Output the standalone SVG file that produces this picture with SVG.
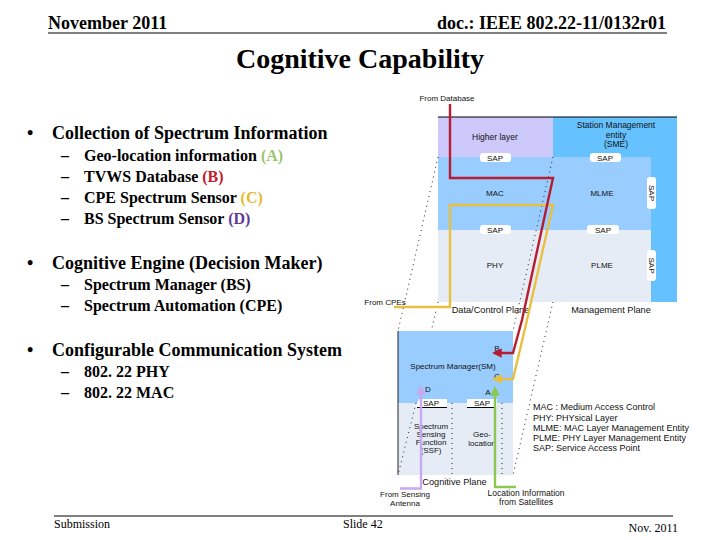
<svg xmlns="http://www.w3.org/2000/svg" width="720" height="540" viewBox="0 0 720 540">
<defs>
<marker id="ar" viewBox="0 0 10 10" refX="8" refY="5" markerWidth="4" markerHeight="4" orient="auto-start-reverse"><path d="M0 0L10 5L0 10Z" fill="context-stroke"/></marker>
</defs>
<style>
.s{font-family:"Liberation Serif",serif;fill:#000}
.h{font-size:18px;font-weight:bold}
.l1{font-size:18px;font-weight:bold}
.l2{font-size:16px;font-weight:bold}
.f{font-size:12px}
.d{font-family:"Liberation Sans",sans-serif;font-size:8px;fill:#111}
.b{font-size:9.200px}
.k{font-size:8.500px}
.m{text-anchor:middle}
.sap{fill:#fff}
.dot{fill:none;stroke:#222;stroke-width:1;stroke-dasharray:1 4}
.w{fill:none;stroke-width:2.4;stroke-linejoin:miter}
</style>
<rect width="720" height="540" fill="#fff"/>
<g id="header">
<text class="s h" x="48" y="28.500">November 2011</text>
<text class="s h" x="666" y="28.500" text-anchor="end">doc.: IEEE 802.22-11/0132r01</text>
<path d="M48 33H667" stroke="#000" stroke-width="1"/>
<text class="s m" x="360" y="68" style="font-size:28px;font-weight:bold">Cognitive Capability</text>
</g>
<g id="bullets">
<text class="s l1" x="27" y="138.500">•</text>
<text class="s l1" x="52" y="138.500">Collection of Spectrum Information</text>
<text class="s l2" x="61" y="161">–</text>
<text class="s l2" x="84" y="161">Geo-location information <tspan fill="#9bc46e">(A)</tspan></text>
<text class="s l2" x="61" y="182">–</text>
<text class="s l2" x="84" y="182">TVWS Database <tspan fill="#c0202a">(B)</tspan></text>
<text class="s l2" x="61" y="203">–</text>
<text class="s l2" x="84" y="203">CPE Spectrum Sensor <tspan fill="#e8b830">(C)</tspan></text>
<text class="s l2" x="61" y="224">–</text>
<text class="s l2" x="84" y="224">BS Spectrum Sensor <tspan fill="#5f3b96">(D)</tspan></text>
<text class="s l1" x="27" y="268.500">•</text>
<text class="s l1" x="52" y="268.500">Cognitive Engine (Decision Maker)</text>
<text class="s l2" x="61" y="290">–</text>
<text class="s l2" x="84" y="290">Spectrum Manager (BS)</text>
<text class="s l2" x="61" y="311">–</text>
<text class="s l2" x="84" y="311">Spectrum Automation (CPE)</text>
<text class="s l1" x="27" y="355.500">•</text>
<text class="s l1" x="52" y="355.500">Configurable Communication System</text>
<text class="s l2" x="61" y="376.500">–</text>
<text class="s l2" x="84" y="376.500">802. 22 PHY</text>
<text class="s l2" x="61" y="397.500">–</text>
<text class="s l2" x="84" y="397.500">802. 22 MAC</text>
</g>
<g id="stack">
<rect x="438" y="117" width="115" height="40" fill="#ccc8fa"/>
<path d="M553 117H677V302H651V157H553Z" fill="#66c2ff"/>
<rect x="438" y="157" width="213" height="73" fill="#99ccff"/>
<rect x="438" y="230" width="213" height="72" fill="#e6ecf6"/>
<path d="M438 117H677" stroke="#000" stroke-width="1"/>
<rect class="sap" x="480" y="153" width="31" height="9" rx="3"/>
<rect class="sap" x="590" y="153" width="31" height="9" rx="3"/>
<rect class="sap" x="480" y="225" width="31" height="9" rx="3"/>
<rect class="sap" x="587" y="225" width="32" height="9" rx="3"/>
<rect class="sap" x="647" y="177" width="9" height="32" rx="3"/>
<rect class="sap" x="647" y="250" width="9" height="31" rx="3"/>
<g class="d m">
<text class="k" x="495" y="140">Higher layer</text>
<text class="k" x="616" y="128">Station Management</text><text class="k" x="616" y="137.500">entity</text><text class="k" x="616" y="146.500">(SME)</text>
<text x="495" y="160.500">SAP</text><text x="605" y="160.500">SAP</text>
<text x="495" y="196">MAC</text><text x="602" y="196">MLME</text>
<text x="495" y="232.500">SAP</text><text x="603" y="232.500">SAP</text>
<text x="495" y="268">PHY</text><text x="602" y="268">PLME</text>
<text transform="translate(649 193) rotate(90)">SAP</text>
<text transform="translate(649 265.500) rotate(90)">SAP</text>
<text class="b" x="490.500" y="313">Data/Control Plane</text><text class="b" x="611" y="313">Management Plane</text>
<text x="447" y="100.500">From Database</text>
<text x="385" y="305">From CPEs</text>
</g>
</g>
<g id="cognitive">
<rect x="398" y="331" width="115" height="72" fill="#99ccff"/>
<rect x="398" y="403" width="115" height="72" fill="#e6ecf6"/>
<path d="M398 331V475" stroke="#222" stroke-width="1"/>
<path d="M416 407L419 399H447V407Z" fill="#fff"/>
<rect x="467" y="399" width="30" height="8" fill="#fff"/>
<path d="M417 407.500H447M467 407.500H496" stroke="#000" stroke-width="1"/>
<path class="dot" d="M452 403V475M502 403V475"/>
<g class="d m">
<text x="453" y="369">Spectrum Manager(SM)</text>
<text x="431" y="405.500">SAP</text><text x="482" y="405.500">SAP</text>
<text x="431" y="429">Spectrum</text><text x="431" y="437">Sensing</text><text x="431" y="445">Function</text><text x="431" y="453">(SSF)</text>
<text x="482" y="437">Geo-</text><text x="482" y="446">location</text>
<text class="b" x="454.500" y="485">Cognitive Plane</text>
<text x="405" y="497">From Sensing</text><text x="405" y="506">Antenna</text>
<text class="k" x="526" y="496">Location Information</text><text class="k" x="526" y="505">from Satellites</text>
<text x="497" y="351">B</text><text x="497" y="378.500">C</text><text x="428" y="392">D</text><text x="488" y="395">A</text>
</g>
<g class="d" style="font-size:9px">
<text x="533" y="410">MAC : Medium Access Control</text>
<text x="533" y="421">PHY: PHYsical Layer</text>
<text x="533" y="431">MLME: MAC Layer Management Entity</text>
<text x="533" y="441">PLME: PHY Layer Management Entity</text>
<text x="533" y="451">SAP: Service Access Point</text>
</g>
</g>
<g id="connectors">
<path class="dot" d="M438 157L398 331M553 157L513 331M438 302L431.500 330M416 403L398 475M553 302L513 475"/>
<path class="w" stroke="#e8c040" d="M394 307H450V205H553L527 320L513 379H494" marker-end="url(#ar)"/>
<path class="w" stroke="#b81c30" d="M450 104V178H553L522 320L513 353H494" marker-end="url(#ar)"/>
<path class="w" stroke="#c8a8f0" d="M400 488.500H421V387" marker-end="url(#ar)"/>
<path class="w" stroke="#8cc850" d="M516 487H495V388" marker-end="url(#ar)"/>
</g>
<g id="footer">
<path d="M54 516H673" stroke="#000" stroke-width="1"/>
<text class="s f" x="54" y="528">Submission</text>
<text class="s f" x="343" y="528">Slide 42</text>
<text class="s f" x="678" y="532" text-anchor="end">Nov. 2011</text>
</g>
</svg>
